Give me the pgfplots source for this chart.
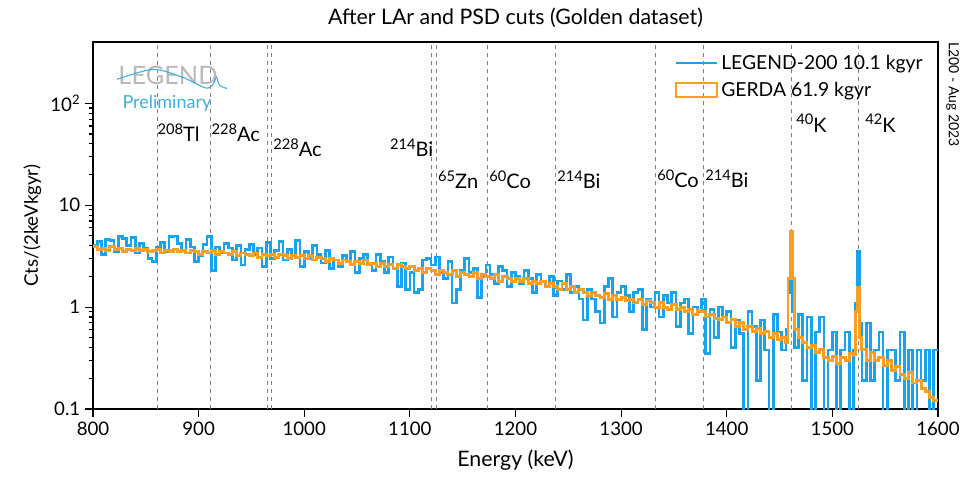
\documentclass[border=0pt]{standalone}
\usepackage{fontspec}
\setmainfont{Lato}
\usepackage{pgfplots}
\pgfplotsset{compat=1.18}
\definecolor{legblue}{RGB}{25,163,236}
\definecolor{gerdaor}{RGB}{247,158,35}
\definecolor{logogray}{RGB}{185,185,185}
\definecolor{prelblue}{RGB}{60,175,225}
\newcommand{\iso}[2]{{\fontsize{11}{13}\selectfont\raisebox{0.5em}{#1}}#2}
\begin{document}
\begin{tikzpicture}
\useasboundingbox (-69.75pt,-51.75pt) rectangle (655.5pt,306.75pt);
\begin{axis}[
  at={(0,0)}, anchor=south west,
  width=633.75pt, height=275.25pt, scale only axis,
  ymode=log, xmin=800, xmax=1600, ymin=0.1, ymax=400,
  xtick={800,900,...,1600},
  ytick={0.1,1,10,100},
  yticklabels={0.1,1,10,10\textsuperscript{2}},
  /pgf/number format/assume math mode=true,
  /pgf/number format/1000 sep={},
  xtick pos=left, ytick pos=left,
  tick align=outside,
  major tick length=6pt, minor tick length=3pt,
  axis line style={line width=1.4pt},
  every tick/.style={black, line width=0.9pt},
  ticklabel style={font=\fontsize{14}{16}\selectfont},
  xlabel={Energy (keV)}, ylabel={Cts/(2keVkgyr)},
  xlabel style={font=\fontsize{16}{18}\selectfont, yshift=2pt},
  ylabel style={font=\fontsize{14}{16}\selectfont},
  title={After LAr and PSD cuts (Golden dataset)},
  title style={font=\fontsize{16}{18}\selectfont, yshift=1pt},
  clip mode=individual,
  extra x ticks={860.6,911.2,964.8,969.0,1120.3,1125.0,1173.2,1238.1,1332.5,1377.7,1460.8,1524.6},
  extra x tick labels={},
  extra x tick style={grid=major, major grid style={gray, dashed, line width=0.6pt}, major tick length=0pt},
  legend style={at={(rel axis cs:0.99,0.98)}, anchor=north east, draw=none, fill=none,
    font=\fontsize{14.5}{16}\selectfont, row sep=4pt, legend cell align=left},
  legend image code/.code={\draw[#1, line width=1.8pt] (0cm,0cm) -- (1.1cm,0cm);},
]
% LEGEND-200
\addplot[const plot, legblue, line width=2pt] table[row sep=\\] {
x y\\
800 4.0\\ 804 4.4\\ 808 3.3\\ 812 4.6\\ 816 4.5\\ 820 3.5\\ 824 4.9\\ 828 4.7\\ 832 4.0\\ 836 4.8\\
840 3.4\\ 844 4.2\\ 848 3.8\\ 852 3.0\\ 856 2.8\\ 860 3.9\\ 864 4.3\\ 868 3.5\\ 872 4.9\\ 876 5.0\\
880 4.2\\ 884 3.6\\ 888 4.6\\ 892 3.9\\ 896 2.8\\
900 3.2\\ 904 4.1\\ 908 4.9\\ 912 2.3\\ 916 3.9\\ 920 3.4\\ 924 4.2\\ 928 3.8\\ 932 2.9\\ 936 4.0\\
940 2.6\\ 944 3.7\\ 948 4.1\\ 952 3.3\\ 956 3.8\\ 960 2.5\\ 964 4.3\\ 968 3.0\\ 972 3.6\\ 976 4.4\\
980 2.9\\ 984 3.7\\ 988 3.2\\ 992 4.5\\ 996 2.5\\
1000 3.5\\ 1004 3.0\\ 1008 4.0\\ 1012 3.3\\ 1016 2.7\\ 1020 3.6\\ 1024 2.4\\ 1028 2.9\\ 1032 2.5\\ 1036 3.2\\
1040 2.8\\ 1044 3.5\\ 1048 2.2\\ 1052 3.0\\ 1056 3.3\\ 1060 2.6\\ 1064 2.3\\ 1068 3.3\\ 1072 2.8\\ 1076 2.2\\
1080 3.1\\ 1084 2.4\\ 1088 1.6\\ 1092 2.7\\ 1096 1.5\\
1100 2.2\\ 1104 1.4\\ 1108 1.5\\ 1112 2.9\\ 1116 3.0\\ 1120 2.6\\ 1124 3.1\\ 1128 2.2\\ 1132 1.9\\ 1136 2.8\\
1140 1.1\\ 1144 1.5\\ 1148 2.3\\ 1152 3.0\\ 1156 2.2\\ 1160 2.4\\ 1164 1.25\\ 1168 2.0\\ 1172 2.6\\ 1176 2.1\\
1180 1.7\\ 1184 2.5\\ 1188 2.3\\ 1192 1.6\\ 1196 2.2\\
1200 2.0\\ 1204 1.7\\ 1208 2.3\\ 1212 1.9\\ 1216 1.4\\ 1220 2.1\\ 1224 1.8\\ 1228 1.6\\ 1232 2.0\\ 1236 1.3\\
1240 1.8\\ 1244 1.5\\ 1248 2.1\\ 1252 1.4\\ 1256 1.6\\ 1260 1.2\\ 1264 0.75\\ 1268 1.5\\ 1272 1.2\\ 1276 0.9\\
1280 0.7\\ 1284 1.6\\ 1288 1.9\\ 1292 0.8\\ 1296 1.4\\
1300 1.6\\ 1304 1.3\\ 1308 0.9\\ 1312 1.4\\ 1316 1.5\\ 1320 0.6\\ 1324 1.2\\ 1328 1.0\\ 1332 1.4\\ 1336 0.8\\
1340 1.3\\ 1344 1.1\\ 1348 1.4\\ 1352 0.65\\ 1356 1.1\\ 1360 1.2\\ 1364 0.55\\ 1368 1.0\\ 1372 0.9\\ 1376 1.2\\
1380 0.35\\ 1384 0.95\\ 1388 0.5\\ 1392 1.0\\ 1396 0.8\\
1400 0.9\\ 1404 0.4\\ 1408 0.75\\ 1412 0.55\\ 1416 0.05\\ 1420 0.9\\ 1424 0.65\\ 1428 0.19\\ 1432 0.75\\ 1436 0.38\\
1440 0.05\\ 1444 0.85\\ 1448 0.57\\ 1452 0.38\\
1456 0.6\\ 1458 1.4\\ 1460 1.8\\ 1462 0.9\\ 1464 0.4\\ 1468 0.85\\
1472 0.19\\ 1476 0.8\\ 1480 0.05\\ 1484 0.57\\ 1488 0.8\\ 1492 0.05\\ 1496 0.38\\ 1500 0.57\\ 1504 0.05\\ 1508 0.38\\
1512 0.57\\ 1516 0.05\\
1520 0.38\\ 1522 1.1\\ 1524 3.5\\ 1526 0.7\\ 1528 0.19\\
1532 0.7\\ 1536 0.19\\ 1540 0.38\\ 1544 0.57\\ 1548 0.05\\ 1552 0.38\\ 1556 0.38\\ 1560 0.19\\ 1564 0.57\\ 1568 0.05\\
1572 0.38\\ 1576 0.05\\ 1580 0.38\\ 1584 0.19\\ 1588 0.38\\ 1592 0.05\\ 1596 0.38\\ 1600 0.38\\
};
\addlegendentry{LEGEND-200 10.1 kgyr}
% GERDA
\addplot[const plot, gerdaor, line width=2.2pt, area legend,
  legend image code/.code={\draw[gerdaor, line width=1.4pt] (0cm,-0.19cm) rectangle (1.1cm,0.19cm);}] table[row sep=\\] {
x y\\
800 3.9\\ 804 3.7\\ 808 3.8\\ 812 3.6\\ 816 3.9\\ 820 3.7\\ 824 3.8\\ 828 3.5\\ 832 3.7\\ 836 3.6\\
840 3.8\\ 844 3.6\\ 848 3.7\\ 852 3.5\\ 856 3.6\\ 860 3.7\\ 864 3.4\\ 868 3.6\\ 872 3.5\\ 876 3.7\\
880 3.5\\ 884 3.6\\ 888 3.4\\ 892 3.6\\ 896 3.5\\
900 3.3\\ 904 3.5\\ 908 3.4\\ 912 3.6\\ 916 3.3\\ 920 3.5\\ 924 3.4\\ 928 3.3\\ 932 3.5\\ 936 3.2\\
940 3.4\\ 944 3.3\\ 948 3.2\\ 952 3.4\\ 956 3.1\\ 960 3.3\\ 964 3.2\\ 968 3.3\\ 972 3.1\\ 976 3.3\\
980 3.2\\ 984 3.0\\ 988 3.2\\ 992 3.1\\ 996 3.2\\
1000 3.0\\ 1004 3.2\\ 1008 2.9\\ 1012 3.1\\ 1016 3.0\\ 1020 2.8\\ 1024 3.0\\ 1028 2.9\\ 1032 2.7\\ 1036 2.9\\
1040 2.8\\ 1044 2.6\\ 1048 2.8\\ 1052 2.7\\ 1056 2.9\\ 1060 2.6\\ 1064 2.7\\ 1068 2.5\\ 1072 2.7\\ 1076 2.5\\
1080 2.6\\ 1084 2.4\\ 1088 2.6\\ 1092 2.5\\ 1096 2.4\\
1100 2.5\\ 1104 2.3\\ 1108 2.4\\ 1112 2.2\\ 1116 2.4\\ 1120 2.3\\ 1124 2.1\\ 1128 2.3\\ 1132 2.2\\ 1136 2.1\\
1140 2.3\\ 1144 2.0\\ 1148 2.2\\ 1152 2.1\\ 1156 2.0\\ 1160 2.2\\ 1164 1.9\\ 1168 2.1\\ 1172 2.0\\ 1176 1.9\\
1180 2.1\\ 1184 1.8\\ 1188 2.0\\ 1192 1.9\\ 1196 1.8\\
1200 1.9\\ 1204 1.8\\ 1208 1.9\\ 1212 1.7\\ 1216 1.8\\ 1220 1.7\\ 1224 1.8\\ 1228 1.6\\ 1232 1.7\\ 1236 1.6\\
1240 1.5\\ 1244 1.7\\ 1248 1.5\\ 1252 1.6\\ 1256 1.4\\ 1260 1.5\\ 1264 1.4\\ 1268 1.3\\ 1272 1.4\\ 1276 1.3\\
1280 1.25\\ 1284 1.35\\ 1288 1.2\\ 1292 1.3\\ 1296 1.2\\
1300 1.25\\ 1304 1.15\\ 1308 1.2\\ 1312 1.1\\ 1316 1.2\\ 1320 1.05\\ 1324 1.15\\ 1328 1.1\\ 1332 1.0\\ 1336 1.1\\
1340 1.0\\ 1344 0.95\\ 1348 1.05\\ 1352 0.95\\ 1356 1.0\\ 1360 0.9\\ 1364 0.95\\ 1368 0.85\\ 1372 0.92\\ 1376 0.9\\
1380 0.8\\ 1384 0.85\\ 1388 0.78\\ 1392 0.75\\ 1396 0.8\\
1400 0.7\\ 1404 0.75\\ 1408 0.65\\ 1412 0.7\\ 1416 0.6\\ 1420 0.65\\ 1424 0.58\\ 1428 0.62\\ 1432 0.55\\ 1436 0.58\\
1440 0.5\\ 1444 0.55\\ 1448 0.48\\ 1452 0.5\\
1456 0.45\\ 1458 1.9\\ 1460 5.5\\ 1462 1.9\\ 1464 0.6\\ 1468 0.5\\
1472 0.45\\ 1476 0.4\\ 1480 0.42\\ 1484 0.36\\ 1488 0.38\\ 1492 0.32\\ 1496 0.3\\ 1500 0.33\\ 1504 0.28\\ 1508 0.32\\
1512 0.3\\ 1516 0.35\\
1520 0.34\\ 1522 0.9\\ 1524 1.57\\ 1526 0.5\\ 1528 0.38\\
1532 0.3\\ 1536 0.36\\ 1540 0.3\\ 1544 0.32\\ 1548 0.27\\ 1552 0.3\\ 1556 0.24\\ 1560 0.26\\ 1564 0.22\\ 1568 0.2\\
1572 0.23\\ 1576 0.18\\ 1580 0.19\\ 1584 0.16\\ 1588 0.15\\ 1592 0.13\\ 1596 0.12\\ 1600 0.12\\
};
\addlegendentry{GERDA 61.9 kgyr}
% logo
\node[logogray, font=\fontsize{19}{22}\selectfont] at (axis cs:871,188) {LEGEND};
\draw[prelblue, line width=0.8pt] plot[smooth] coordinates {(axis cs:822.7,172) (axis cs:856.8,215) (axis cs:885,180) (axis cs:906,142) (axis cs:913,150) (axis cs:917,184)};
\draw[prelblue, line width=0.8pt] plot[smooth] coordinates {(axis cs:917,184) (axis cs:920,150) (axis cs:927,140)};
\node[prelblue, font=\fontsize{13.5}{15}\selectfont] at (axis cs:870,100) {Preliminary};
% isotope labels
\begin{scope}[every node/.style={anchor=base west, inner sep=0pt, font=\fontsize{15}{17}\selectfont}]
\node at (axis cs:861,42) {\iso{208}{Tl}};
\node at (axis cs:912,42) {\iso{228}{Ac}};
\node at (axis cs:970.4,30) {\iso{228}{Ac}};
\node at (axis cs:1081,30) {\iso{214}{Bi}};
\node at (axis cs:1126.6,14.5) {\iso{65}{Zn}};
\node at (axis cs:1175,14.5) {\iso{60}{Co}};
\node at (axis cs:1239.3,14.5) {\iso{214}{Bi}};
\node at (axis cs:1334,14.8) {\iso{60}{Co}};
\node at (axis cs:1379.4,14.8) {\iso{214}{Bi}};
\node at (axis cs:1465.6,52) {\iso{40}{K}};
\node at (axis cs:1531,52) {\iso{42}{K}};
\end{scope}
\node[rotate=-90, anchor=south west, inner sep=0pt, font=\fontsize{10.5}{12}\selectfont] at ([xshift=6pt]rel axis cs:1,1) {L200 - Aug 2023};
\end{axis}
\end{tikzpicture}
\end{document}
